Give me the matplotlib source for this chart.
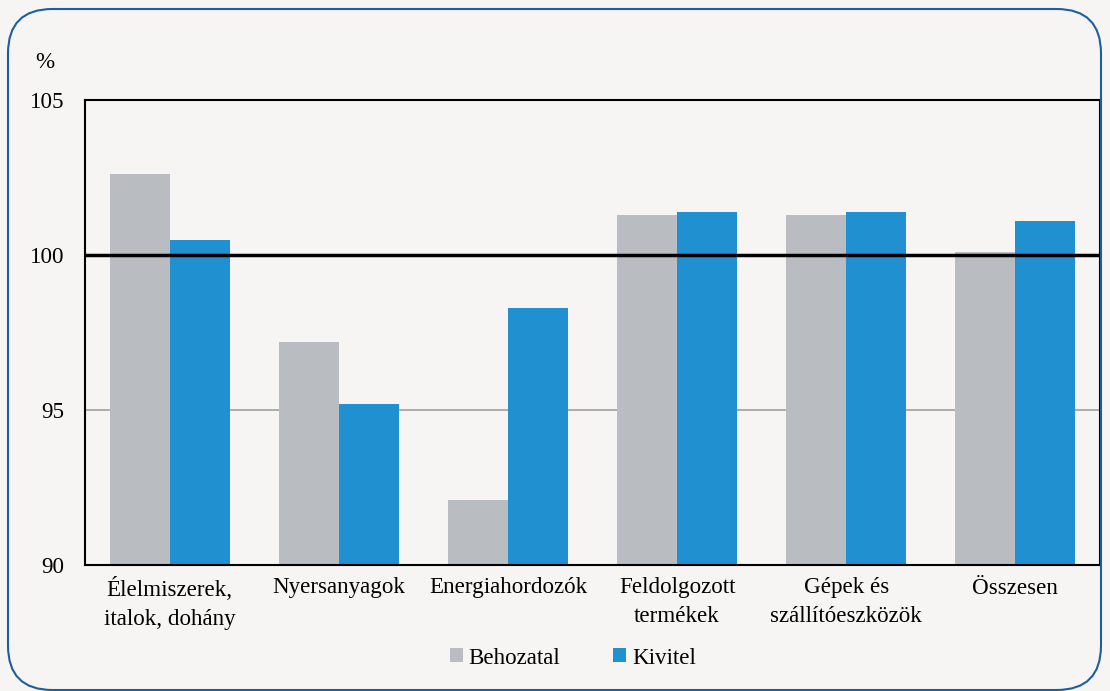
import matplotlib
matplotlib.use("Agg")
import matplotlib.pyplot as plt
import numpy as np
from matplotlib.patches import FancyBboxPatch

categories = ["Élelmiszerek,\nitalok, dohány", "Nyersanyagok", "Energiahordozók",
              "Feldolgozott\ntermékek", "Gépek és\nszállítóeszközök", "Összesen"]
behozatal = [102.6, 97.2, 92.1, 101.3, 101.3, 100.1]
kivitel = [100.5, 95.2, 98.3, 101.4, 101.4, 101.1]
yticks = [90, 95, 100, 105]

bg = "#f6f5f3"
gray = "#b9bdc1"
blue = "#2190d0"

plt.rcParams['font.family'] = ['Liberation Serif', 'DejaVu Serif']
fs = 16.6

fig = plt.figure(figsize=(11.10, 6.91), dpi=100, facecolor=bg)
border = FancyBboxPatch((8/1110, 1/691), 1093/1110, 681/691,
                        boxstyle="round,pad=0,rounding_size=0.04",
                        transform=fig.transFigure, facecolor="none",
                        edgecolor="#1c5fa0", linewidth=1.5, mutation_aspect=1110/691,
                        zorder=0)
fig.patches.append(border)

ax = fig.add_axes([85/1110, 1-565/691, 1015/1110, 465/691])
ax.set_facecolor(bg)
x = np.arange(len(categories))
w = 0.355
ax.bar(x - w/2, [v - 90 for v in behozatal], w, bottom=90, color=gray, label="Behozatal", zorder=2)
ax.bar(x + w/2, [v - 90 for v in kivitel], w, bottom=90, color=blue, label="Kivitel", zorder=2)
ax.set_xlim(-0.5, len(categories) - 0.5)
ax.set_ylim(90, 105)
ax.set_yticks(yticks)
ax.set_yticklabels([str(t) for t in yticks], fontsize=fs)
ax.set_xticks(x)
ax.set_xticklabels(categories, fontsize=fs, linespacing=1.45)
ax.tick_params(length=0, pad=9)
ax.tick_params(axis='y', pad=15)
ax.axhline(95, color="#a0a0a0", lw=1.2, zorder=1)
ax.axhline(100, color="black", lw=2.5, zorder=3)
for s in ax.spines.values():
    s.set_linewidth(1.5)
    s.set_color("black")
fig.text(35/1110, 1-62/691, "%", fontsize=fs, va="center")
leg = fig.legend(loc="center", bbox_to_anchor=(573/1110, 1-658/691), ncol=2, frameon=False,
                 fontsize=fs, handlelength=0.55, handleheight=0.55, handletextpad=0.25,
                 columnspacing=2.3)
fig.savefig("out.png", dpi=100, facecolor=bg)
